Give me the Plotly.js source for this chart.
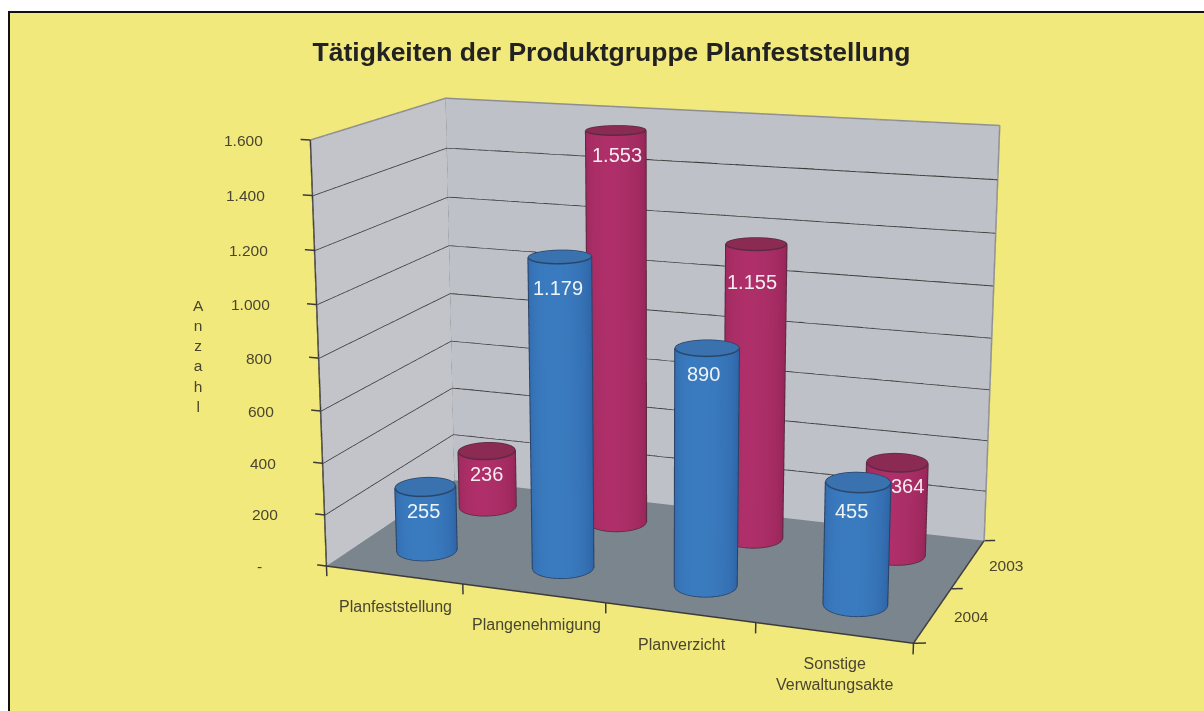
<!DOCTYPE html>
<html><head><meta charset="utf-8"><script src="https://cdn.plot.ly/plotly-3.0.1.min.js"></script>
<style>html,body{margin:0;padding:0;background:#fff;overflow:hidden;width:1204px;height:711px}#c{position:absolute;left:0;top:-589px;width:1204px;height:1889px}</style></head>
<body><div id="c"></div><script>
const categories=['Planfeststellung','Plangenehmigung','Planverzicht','Sonstige<br>Verwaltungsakte'];
const years=['2004','2003'];
const v2004=[255,1179,890,455];
const v2003=[236,1553,1155,364];
const zTicks=[0,200,400,600,800,1000,1200,1400,1600];
const zLabels=['-','200','400','600','800','1.000','1.200','1.400','1.600'];
const W=1204,GH=1889,TOP=589;
const pY=p=>1-(p+TOP)/GH;
const rng={x:[-0.25,4.25],y:[-0.3,2.3],z:[-100,1650]};
const sx=0.21246,sy=0.21569,sz=0.00038083;
const eye={x:1.0546,y:-2.9247,z:0.79377},center={x:-0.074393,y:-0.033377,z:0},up={x:0.0019598,y:0.011155,z:1};
const wall='#bfc1c8',wallL='#c2c4ca',floor='#7b858e',dark='#3b3a38',gray='#8c8e90';
const flat=c=>[[0,c],[1,c]];
const traces=[];
const LIT={ambient:1,diffuse:0,specular:0,fresnel:0,roughness:1};
function plane(x,y,z,c){traces.push({type:'surface',x,y,z,surfacecolor:z.map(r=>r.map(()=>0)),colorscale:flat(c),cmin:0,cmax:1,showscale:false,hoverinfo:'skip',lighting:LIT});}
plane([[0,0],[0,0]],[[0,2],[0,2]],[[0,0],[1600,1600]],wallL);
plane([[0,4],[0,4]],[[2,2],[2,2]],[[0,0],[1600,1600]],wall);
plane([[0,4],[0,4]],[[0,0],[2,2]],[[0,0],[0,0]],floor);
function line(x,y,z,c,w){traces.push({type:'scatter3d',mode:'lines',x,y,z,line:{color:c,width:w},hoverinfo:'skip',showlegend:false});}
zTicks.forEach(v=>{if(v>0&&v<1600)line([0,0,4],[0,2,2],[v,v,v],dark,3);});
line([0,0,4],[0,2,2],[1600,1600,1600],gray,3);
line([0,0],[2,2],[0,1600],gray,3);line([4,4],[2,2],[0,1600],gray,3);
line([0,0],[0,0],[-40,1600],dark,3);
zTicks.forEach(v=>line([-0.07,0],[0,0],[v,v],dark,3));
line([0,4],[0,0],[0,0],dark,3);line([4,4],[0,2],[0,0],dark,3);
[0,1,2,3,4].forEach(x=>line([x,x],[0,0],[-40,0],dark,3));
[0,1,2].forEach(y=>line([4,4.07],[y,y+0.03],[0,0],dark,3));
const rx=0.2,ry=rx*sx/sy*1.05;
function cyl(cxx,cyy,h,side0,side1,top,edge){
 const n=60,th=[];for(let i=0;i<=n;i++)th.push(i/n*2*Math.PI);
 const X0=th.map(t=>cxx+rx*Math.cos(t)),Y0=th.map(t=>cyy+ry*Math.sin(t));
 const phi=Math.atan2(eye.y-(cyy-1)*sy,eye.x-(cxx-2)*sx);
 const sc=th.map(t=>Math.max(0,Math.cos(t-phi+0.2)));
 traces.push({type:'surface',x:[X0,X0],y:[Y0,Y0],z:[th.map(()=>0),th.map(()=>h)],surfacecolor:[sc,sc],colorscale:[[0,side0],[1,side1]],cmin:0,cmax:1,showscale:false,hoverinfo:'skip',lighting:LIT});
 const cz=[th.map(()=>h),th.map(()=>h)];
 traces.push({type:'surface',x:[th.map(()=>cxx),X0],y:[th.map(()=>cyy),Y0],z:cz,surfacecolor:cz.map(r=>r.map(()=>0)),colorscale:flat(top),cmin:0,cmax:1,showscale:false,hoverinfo:'skip',lighting:LIT});
 line(X0,Y0,th.map(()=>h),edge,3);
 line(X0,Y0,th.map(()=>3),edge,3);
 [phi-Math.PI/2,phi+Math.PI/2].forEach(t=>line([cxx+rx*1.01*Math.cos(t),cxx+rx*1.01*Math.cos(t)],[cyy+ry*1.01*Math.sin(t),cyy+ry*1.01*Math.sin(t)],[0,h],edge,3));
}
categories.forEach((c,i)=>cyl(i+.5,1.5,v2003[i],'#972659','#ae2f69','#8b2a52','#5c2a42'));
categories.forEach((c,i)=>cyl(i+.5,.5,v2004[i],'#2f66a8','#3a7bbf','#3a72b0','#2a4468'));
const txt='#4a4530',F='Liberation Sans, Arial, sans-serif';
const ann=[];
const A=(x,y,z,text,xa,xs,ys,size,col)=>ann.push({x,y,z,text,showarrow:false,xanchor:xa,xshift:xs,yshift:ys,font:{family:F,size,color:col}});
zTicks.forEach((v,i)=>A(0,0,v,zLabels[i],'right',v===0?-62:-45,0,15.5,txt));
const catDx=[2,3,2,1],catDy=[-32,-31,-32,-41];
categories.forEach((c,i)=>A(i+.5,0,0,c,'center',catDx[i],catDy[i],16,txt));
years.forEach((y,i)=>A(4,i+.5,0,y,'left',19,-1,15.5,txt));
const fmt=v=>v>=1000?(v/1000).toFixed(3):String(v);
const blueDx=[-2,-2,-4,-7],blueDy=[-24,-31,-26,-29],redDx=[0,1,-4,10],redDy=[-23,-25,-38,-23];
v2004.forEach((v,i)=>A(i+.5,.5,v,fmt(v),'center',blueDx[i],blueDy[i],20,'#eef3f6'));
v2003.forEach((v,i)=>A(i+.5,1.5,v,fmt(v),'center',redDx[i],redDy[i],20,'#f6ecf0'));
const ax={visible:false,showspikes:false};
const layout={width:W,height:GH,margin:{l:0,r:0,t:0,b:0},paper_bgcolor:'#fff',showlegend:false,
 title:{text:'<b>Tätigkeiten der Produktgruppe Planfeststellung</b>',x:611.5/W,xanchor:'center',y:pY(52),yanchor:'middle',font:{family:F,size:26.5,color:'#222'}},
 shapes:[{type:'rect',xref:'paper',yref:'paper',x0:9/W,x1:1.01,y0:pY(720),y1:pY(12),fillcolor:'#f2e97c',line:{color:'#111',width:2},layer:'below'}],
 annotations:[{xref:'paper',yref:'paper',x:191/W,y:pY(356),text:'A<br>n<br>z<br>a<br>h<br>l',showarrow:false,font:{family:F,size:15.5,color:txt},align:'center'}],
 scene:{domain:{x:[0,1],y:[0,1]},bgcolor:'rgba(0,0,0,0)',dragmode:false,
  xaxis:{...ax,range:rng.x},yaxis:{...ax,range:rng.y},zaxis:{...ax,range:rng.z},
  aspectmode:'manual',aspectratio:{x:sx*4.5,y:sy*2.6,z:sz*1750},
  camera:{eye,center,up},annotations:ann}};
Plotly.newPlot('c',traces,layout,{displayModeBar:false});
</script></body></html>
